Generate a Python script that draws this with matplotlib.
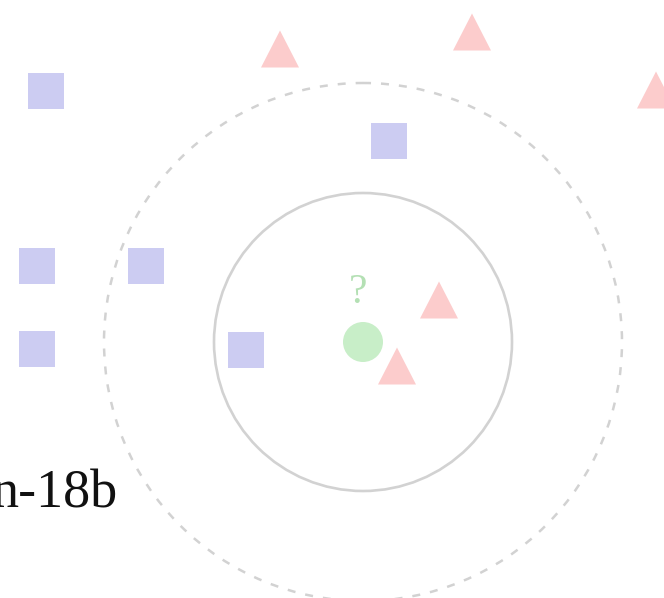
import matplotlib
matplotlib.use("Agg")
import matplotlib.pyplot as plt
from matplotlib.patches import Rectangle, Polygon, Circle

# Data (pixel-space coordinates of the illustration, y downward)
square_x = [46, 389, 37, 146, 37, 246]
square_y = [91, 141, 266, 266, 349, 350]
triangle_x = [280, 472, 656, 439, 397]
triangle_y = [49, 32, 90, 300, 366]
query_x, query_y = 363, 342
inner_radius = 149
outer_radius = 259
label_text = "n-18b"

fig = plt.figure(figsize=(6.64, 5.98), dpi=100)
ax = fig.add_axes([0, 0, 1, 1])
ax.set_xlim(0, 664)
ax.set_ylim(598, 0)
ax.set_axis_off()

sq = 36
for x, y in zip(square_x, square_y):
    ax.add_patch(Rectangle((x - sq / 2, y - sq / 2), sq, sq,
                           facecolor="#ccccf2", edgecolor="none"))
tw, th = 38, 37
for x, y in zip(triangle_x, triangle_y):
    ax.add_patch(Polygon([(x - tw / 2, y + th / 2), (x + tw / 2, y + th / 2), (x, y - th / 2)],
                         closed=True, facecolor="#fccccc", edgecolor="none"))

ax.add_patch(Circle((query_x, query_y), 20, facecolor="#c8eec8", edgecolor="none"))
ax.text(query_x - 5, query_y - 49, "?", color="#b4e0b4", fontsize=30,
        family="Liberation Serif", ha="center", va="center")

ax.add_patch(Circle((query_x, query_y), inner_radius, facecolor="none",
                    edgecolor="#d2d2d2", lw=1.9))
ax.add_patch(Circle((query_x, query_y), outer_radius, facecolor="none",
                    edgecolor="#d2d2d2", lw=1.8, linestyle=(0, (3.2, 4))))

ax.text(118, 508, label_text, color="#111111", fontsize=39,
        family="Liberation Serif", ha="right", va="baseline")

fig.savefig("out.png", dpi=100)
